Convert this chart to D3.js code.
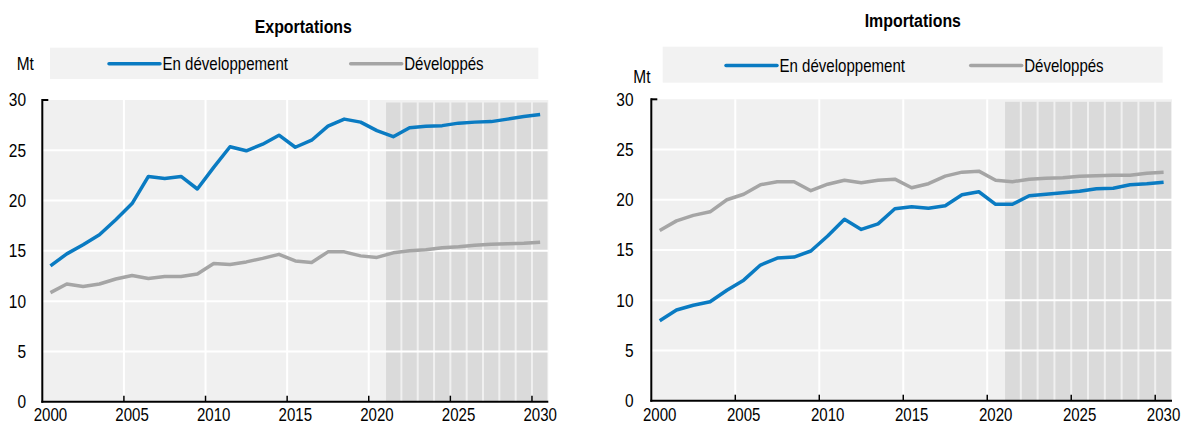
<!DOCTYPE html>
<html>
<head>
<meta charset="utf-8">
<script src="https://cdn.jsdelivr.net/npm/d3@7"></script>
<style>
  html, body { margin: 0; padding: 0; background: #fff; }
  svg { display: block; font-family: "Liberation Sans", Arial, sans-serif; }
</style>
</head>
<body>
<svg id="chart" width="1182" height="425"></svg>
<script>
// Données (Mt)
const years = d3.range(2000, 2031);
const exportsDev   = [13.5, 14.7, 15.6, 16.6, 18.1, 19.7, 22.4, 22.2, 22.4, 21.15, 23.3, 25.35, 24.95, 25.6, 26.5, 25.3,
                      26.0, 27.4, 28.1, 27.8, 26.95, 26.35, 27.25, 27.4, 27.45, 27.7, 27.8, 27.85, 28.1, 28.35, 28.55];
const exportsDevd  = [10.85, 11.7, 11.45, 11.7, 12.2, 12.55, 12.25, 12.45, 12.45, 12.7, 13.75, 13.65, 13.9, 14.25, 14.65, 14.0,
                      13.85, 14.9, 14.9, 14.5, 14.35, 14.8, 15.0, 15.1, 15.3, 15.4, 15.55, 15.65, 15.7, 15.75, 15.85];
const importsDev   = [7.96, 9.03, 9.5, 9.85, 11.0, 12.0, 13.5, 14.2, 14.3, 14.9, 16.4, 18.05, 17.05, 17.6, 19.1, 19.3,
                      19.15, 19.4, 20.5, 20.8, 19.55, 19.55, 20.4, 20.55, 20.7, 20.85, 21.1, 21.15, 21.5, 21.6, 21.75];
const importsDevd  = [16.95, 17.9, 18.45, 18.8, 20.0, 20.55, 21.5, 21.8, 21.8, 20.9, 21.55, 21.95, 21.7, 21.95, 22.05, 21.2,
                      21.6, 22.35, 22.75, 22.85, 21.95, 21.8, 22.05, 22.15, 22.2, 22.35, 22.4, 22.45, 22.45, 22.65, 22.75];
const seriesNames  = ["En développement", "Développés"];
const yTicks = [0, 5, 10, 15, 20, 25, 30];
const xLabels = [2000, 2005, 2010, 2015, 2020, 2025, 2030];
const projStart = 2021;

const BLUE = "#0a7bc2", GREY = "#a5a5a5";
const NARROW = 0.86;   // police étroite simulée

const svg = d3.select("#chart");

// compresse le texte horizontalement (façon Arial Narrow)
function narrow(sel) {
  sel.each(function () {
    const t = d3.select(this);
    const tx = +t.attr("x"), ty = +t.attr("y");
    t.attr("x", 0).attr("y", 0)
      .attr("transform", `translate(${tx},${ty}) scale(${NARROW},1)`);
  });
}

const panels = [
  { title: "Exportations", series: [exportsDev, exportsDevd],
    x0: 42.3, x1: 548.3, yTop: 100, yBot: 401.7,
    titleX: 303.3, titleY: 33.3,
    legend: { x: 50, y: 47.7, w: 488.3, h: 31.3, lineY: 63.7, textY: 70.3, items: [109, 350.7] },
    mt: { x: 16.7, y: 70.3 }, yLabX: 26 },
  { title: "Importations", series: [importsDev, importsDevd],
    x0: 651.3, x1: 1172, yTop: 99.3, yBot: 400.7,
    titleX: 912.8, titleY: 26.7,
    legend: { x: 662.7, y: 46.7, w: 500, h: 36, lineY: 65.5, textY: 71.5, items: [726, 970.7] },
    mt: { x: 633.3, y: 82.7 }, yLabX: 633.5 }
];

panels.forEach(p => {
  const g = svg.append("g");

  const x = d3.scaleLinear().domain([2000, 2031]).range([p.x0, p.x1]);
  const y = d3.scaleLinear().domain([0, 30]).range([p.yBot, p.yTop]);
  const band = x(2001) - x(2000);

  // fond
  g.append("rect")
    .attr("x", p.x0).attr("y", p.yTop)
    .attr("width", p.x1 - p.x0).attr("height", p.yBot - p.yTop)
    .attr("fill", "#f0f0f0");

  // zone de projection
  g.selectAll("rect.proj")
    .data(d3.range(projStart, 2031))
    .join("rect")
    .attr("class", "proj")
    .attr("x", d => x(d) + 1)
    .attr("y", p.yTop + 2.5)
    .attr("width", band - 2)
    .attr("height", p.yBot - p.yTop - 2.5)
    .attr("fill", "#dadada");

  // grille
  g.selectAll("line.hgrid")
    .data(yTicks.filter(v => v > 0 && v < 30))
    .join("line")
    .attr("class", "hgrid")
    .attr("x1", p.x0).attr("x2", p.x1)
    .attr("y1", d => y(d)).attr("y2", d => y(d))
    .attr("stroke", "#fff").attr("stroke-width", 2);

  g.selectAll("line.vgrid")
    .data([2005, 2010, 2015, 2020])
    .join("line")
    .attr("class", "vgrid")
    .attr("x1", d => x(d)).attr("x2", d => x(d))
    .attr("y1", p.yTop).attr("y2", p.yBot)
    .attr("stroke", "#fff").attr("stroke-width", 2);

  // séries
  const line = d3.line()
    .x((d, i) => x(years[i] + 0.5))
    .y(d => y(d));

  [1, 0].forEach(si => {
    g.append("path")
      .datum(p.series[si])
      .attr("d", line)
      .attr("fill", "none")
      .attr("stroke", si === 0 ? BLUE : GREY)
      .attr("stroke-width", 3.5)
      .attr("stroke-linejoin", "round");
  });

  // axes
  g.append("line")
    .attr("x1", p.x0).attr("x2", p.x0)
    .attr("y1", p.yTop - 1).attr("y2", p.yBot + 1)
    .attr("stroke", "#000").attr("stroke-width", 2);
  g.append("line")
    .attr("x1", p.x0).attr("x2", p.x0 + 6)
    .attr("y1", p.yTop).attr("y2", p.yTop)
    .attr("stroke", "#000").attr("stroke-width", 2);
  g.append("line")
    .attr("x1", p.x0 - 1).attr("x2", p.x1)
    .attr("y1", p.yBot).attr("y2", p.yBot)
    .attr("stroke", "#000").attr("stroke-width", 2);
  g.selectAll("line.xtick")
    .data(xLabels.slice(1))
    .join("line")
    .attr("class", "xtick")
    .attr("x1", d => x(d)).attr("x2", d => x(d))
    .attr("y1", p.yBot).attr("y2", p.yBot - 6)
    .attr("stroke", "#000").attr("stroke-width", 1.5);

  // libellés des axes
  g.selectAll("text.ylab")
    .data(yTicks)
    .join("text")
    .attr("class", "ylab")
    .attr("x", p.yLabX)
    .attr("y", d => y(d))
    .attr("dy", "0.36em")
    .attr("text-anchor", "end")
    .attr("font-size", 18)
    .attr("fill", "#000")
    .text(d => d)
    .call(narrow);

  g.selectAll("text.xlab")
    .data(xLabels)
    .join("text")
    .attr("class", "xlab")
    .attr("x", d => x(d + 0.5))
    .attr("y", 420.8)
    .attr("text-anchor", "middle")
    .attr("font-size", 17.5)
    .attr("fill", "#000")
    .text(d => d)
    .call(narrow);

  // unité
  g.append("text")
    .attr("x", p.mt.x).attr("y", p.mt.y)
    .attr("font-size", 18)
    .text("Mt")
    .call(narrow);

  // titre
  g.append("text")
    .attr("x", p.titleX).attr("y", p.titleY)
    .attr("text-anchor", "middle")
    .attr("font-size", 18.5)
    .attr("font-weight", "bold")
    .text(p.title)
    .call(narrow);

  // légende
  const L = p.legend;
  g.append("rect")
    .attr("x", L.x).attr("y", L.y)
    .attr("width", L.w).attr("height", L.h)
    .attr("fill", "#f2f2f2");

  L.items.forEach((lx, i) => {
    g.append("line")
      .attr("x1", lx).attr("x2", lx + 51)
      .attr("y1", L.lineY).attr("y2", L.lineY)
      .attr("stroke", i === 0 ? BLUE : GREY)
      .attr("stroke-width", 3.5)
      .attr("stroke-linecap", "round");
    g.append("text")
      .attr("x", lx + 53.5).attr("y", L.textY)
      .attr("font-size", 17.5)
      .text(seriesNames[i])
      .call(narrow);
  });
});
</script>
</body>
</html>
